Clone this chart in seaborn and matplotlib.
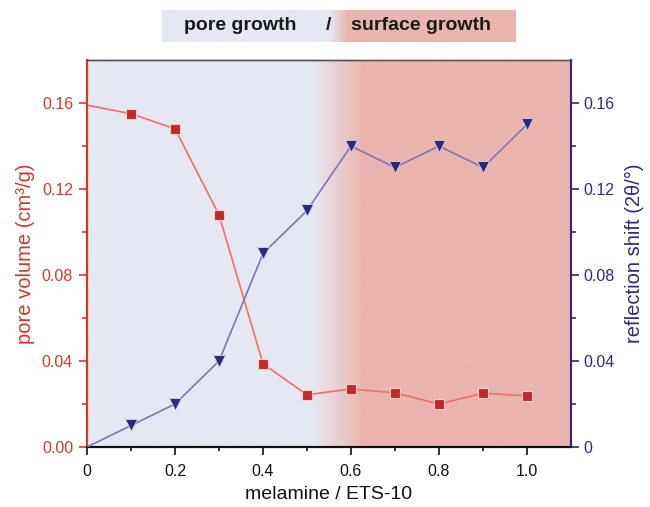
import numpy as np
import pandas as pd
import matplotlib
matplotlib.use("Agg")
import matplotlib.pyplot as plt
import seaborn as sns
from matplotlib.colors import LinearSegmentedColormap
from matplotlib.ticker import FixedLocator

# ---- data ----
ratio = [0.0, 0.1, 0.2, 0.3, 0.4, 0.5, 0.6, 0.7, 0.8, 0.9, 1.0]
pore_volume = [0.159, 0.155, 0.148, 0.108, 0.0387, 0.0243, 0.027, 0.0252, 0.020, 0.025, 0.0238]
reflection_shift = [0.0, 0.01, 0.02, 0.04, 0.09, 0.11, 0.14, 0.13, 0.14, 0.13, 0.15]
left_ticks = [0.00, 0.04, 0.08, 0.12, 0.16]
left_ticklabels = ["0.00", "0.04", "0.08", "0.12", "0.16"]
right_ticklabels = ["0", "0.04", "0.08", "0.12", "0.16"]
x_ticks = [0, 0.2, 0.4, 0.6, 0.8, 1.0]
x_ticklabels = ["0", "0.2", "0.4", "0.6", "0.8", "1.0"]

df = pd.DataFrame({"ratio": ratio, "pore": pore_volume, "shift": reflection_shift})

sns.set_style("ticks")
plt.rcParams["font.family"] = ["Liberation Sans", "DejaVu Sans"]

RED_AX = "#D2382C"
RED_LINE = "#F2705F"
RED_MK = "#C3292A"
BLUE_AX = "#2F2A78"
BLUE_LINE = "#7D76B6"
BLUE_MK = "#2D2A7A"
LAV = "#E5E8F2"
PINK = "#EBB4AE"

fig = plt.figure(figsize=(6.5, 5.07), dpi=100)
ax = fig.add_axes([87/650, 1-447/507, (571-87)/650, (447-60)/507])

XMAX, YMAX = 1.1, 0.18

# background gradient
xs = np.linspace(0, XMAX, 600)
t = np.clip((xs - 0.515) / (0.63 - 0.515), 0, 1)
ax.imshow(t[np.newaxis, :], extent=[0, XMAX, 0, YMAX], aspect="auto",
          cmap=LinearSegmentedColormap.from_list("bg2", [LAV, PINK]),
          vmin=0, vmax=1, zorder=0, interpolation="bilinear")

sns.lineplot(data=df, x="ratio", y="pore", ax=ax, color=RED_LINE, lw=1.2,
             marker="s", markersize=7, markerfacecolor=RED_MK,
             markeredgecolor="#F7D0CB", markeredgewidth=0.8,
             markevery=list(range(1, len(ratio))), zorder=3)

ax2 = ax.twinx()
sns.lineplot(data=df, x="ratio", y="shift", ax=ax2, color=BLUE_LINE, lw=1.2,
             marker="v", markersize=9, markerfacecolor=BLUE_MK,
             markeredgecolor="#D8D6EA", markeredgewidth=0.6,
             markevery=list(range(1, len(ratio))), zorder=3)

for a in (ax, ax2):
    a.set_xlim(0, XMAX)
    a.set_ylim(0, YMAX)

FS = 11.5
ax.set_xticks(x_ticks)
ax.set_xticklabels(x_ticklabels, fontsize=FS, color="#111111")
ax.xaxis.set_minor_locator(FixedLocator([0.1, 0.3, 0.5, 0.7, 0.9]))
ax.set_yticks(left_ticks)
ax.set_yticklabels(left_ticklabels, fontsize=FS, color=RED_AX)
ax.yaxis.set_minor_locator(FixedLocator([0.02, 0.06, 0.10, 0.14]))
ax2.set_yticks(left_ticks)
ax2.set_yticklabels(right_ticklabels, fontsize=FS, color=BLUE_AX)
ax2.yaxis.set_minor_locator(FixedLocator([0.02, 0.06, 0.10, 0.14]))

ax.tick_params(axis="x", which="major", length=5.5, width=1.2, color="#111111", direction="out", pad=7)
ax.tick_params(axis="x", which="minor", length=3, width=1.2, color="#111111", direction="out")
ax.tick_params(axis="y", which="major", length=6, width=1.2, color=RED_AX, direction="out", pad=4)
ax.tick_params(axis="y", which="minor", length=3.5, width=1.2, color=RED_AX, direction="out")
ax2.tick_params(axis="y", which="major", length=6, width=1.2, color=BLUE_AX, direction="out", pad=3)
ax2.tick_params(axis="y", which="minor", length=3.5, width=1.2, color=BLUE_AX, direction="out")

for a in (ax, ax2):
    a.spines["left"].set_color(RED_AX)
    a.spines["right"].set_color(BLUE_AX)
    a.spines["bottom"].set_color("#111111")
    a.spines["top"].set_color("#555555")
    a.spines["left"].set_linewidth(1.5)
    a.spines["right"].set_linewidth(1.5)
    a.spines["bottom"].set_linewidth(1.5)
    a.spines["top"].set_linewidth(1.0)
    a.spines["top"].set_visible(True)
    a.spines["right"].set_visible(True)

ax.set_xlabel("melamine / ETS-10", fontsize=14, color="#111111", labelpad=5)
ax.set_ylabel("pore volume (cm³/g)", fontsize=14.5, color=RED_AX, labelpad=5)
ax2.set_ylabel("reflection shift (2θ/°)", fontsize=14.5, color=BLUE_AX, labelpad=7)

# banner
bax = fig.add_axes([162/650, 1-42/507, (516-162)/650, 32/507])
bs = np.linspace(0, 1, 600)
bt = np.clip((bs - 0.475) / (0.525 - 0.475), 0, 1)
bax.imshow(bt[np.newaxis, :], extent=[0, 1, 0, 1], aspect="auto",
           cmap=LinearSegmentedColormap.from_list("bg3", [LAV, PINK]),
           vmin=0, vmax=1, interpolation="bilinear")
bax.set_xlim(0, 1)
bax.set_ylim(0, 1)
bax.axis("off")
bax.text((240-162)/354, 0.5, "pore growth", ha="center", va="center",
         fontsize=14, fontweight="bold", color="#1A1A1A")
bax.text((329-162)/354, 0.5, "/", ha="center", va="center",
         fontsize=14, fontweight="bold", color="#1A1A1A")
bax.text((421-162)/354, 0.5, "surface growth", ha="center", va="center",
         fontsize=14, fontweight="bold", color="#1A1A1A")

fig.savefig("out.png", dpi=100)
